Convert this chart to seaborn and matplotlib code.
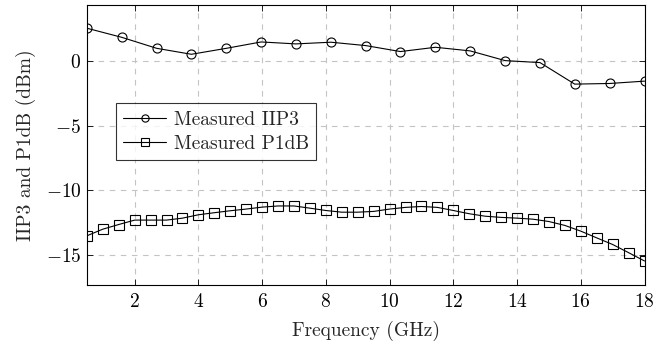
import numpy as np
import pandas as pd
import matplotlib
matplotlib.use("Agg")
import matplotlib.pyplot as plt
import seaborn as sns

iip3_freq = [0.5, 1.59, 2.69, 3.78, 4.88, 5.97, 7.06, 8.16, 9.25, 10.34, 11.44,
             12.53, 13.63, 14.72, 15.81, 16.91, 18.0]
iip3_vals = [2.5, 1.8, 0.95, 0.49, 0.95, 1.44, 1.29, 1.42, 1.16, 0.7, 1.03,
             0.75, 0.0, -0.15, -1.81, -1.76, -1.58]

p1db_freq = [0.5, 1.0, 1.5, 2.0, 2.5, 3.0, 3.5, 4.0, 4.5, 5.0, 5.5, 6.0, 6.5, 7.0,
             7.5, 8.0, 8.5, 9.0, 9.5, 10.0, 10.5, 11.0, 11.5, 12.0, 12.5, 13.0,
             13.5, 14.0, 14.5, 15.0, 15.5, 16.0, 16.5, 17.0, 17.5, 18.0]
p1db_vals = [-13.5, -12.99, -12.63, -12.29, -12.29, -12.29, -12.14, -11.88, -11.72,
             -11.57, -11.44, -11.29, -11.2, -11.2, -11.37, -11.55, -11.68, -11.68,
             -11.62, -11.44, -11.31, -11.24, -11.31, -11.55, -11.8, -11.99, -12.08,
             -12.14, -12.22, -12.4, -12.7, -13.14, -13.66, -14.17, -14.8, -15.44]

series_names = ["Measured IIP3", "Measured P1dB"]
x_ticks = [2, 4, 6, 8, 10, 12, 14, 16, 18]
y_ticks = [0, -5, -10, -15]

df = pd.concat([
    pd.DataFrame({"freq": iip3_freq, "val": iip3_vals, "series": series_names[0]}),
    pd.DataFrame({"freq": p1db_freq, "val": p1db_vals, "series": series_names[1]}),
])

sns.set_style("ticks")
plt.rcParams["font.family"] = ["cmr10", "DejaVu Serif"]
plt.rcParams["mathtext.fontset"] = "cm"
plt.rcParams["axes.formatter.use_mathtext"] = True
plt.rcParams["axes.unicode_minus"] = True

FS = 14

fig = plt.figure(figsize=(6.53, 3.46), dpi=100)
ax = fig.add_axes([0.133, 0.176, 0.854, 0.81])

sns.lineplot(data=df, x="freq", y="val", hue="series", style="series",
             palette={series_names[0]: "black", series_names[1]: "black"},
             markers={series_names[0]: "o", series_names[1]: "s"},
             dashes=False, linewidth=0.8, markersize=6.5, markerfacecolor="none",
             markeredgecolor="black", markeredgewidth=0.8, ax=ax)

ax.set_xlim(0.5, 18)
ax.set_ylim(-17.3, 4.3)
ax.set_xticks(x_ticks)
ax.set_yticks(y_ticks)
ax.grid(True, color="#c4c4c4", linestyle=(0, (5, 5)), linewidth=0.8)
ax.set_axisbelow(True)
for s in ax.spines.values():
    s.set_visible(True)
    s.set_color("black")
    s.set_linewidth(0.8)
ax.tick_params(direction="in", top=True, right=True, length=4, width=0.6,
               labelsize=FS, colors="black")
ax.tick_params(axis="x", pad=6)
ax.tick_params(axis="y", pad=4)
ax.set_xlabel("Frequency (GHz)", fontsize=FS, labelpad=7)
ax.set_ylabel("IIP3 and P1dB (dBm)", fontsize=FS, labelpad=7)

leg = ax.legend(loc="upper left", bbox_to_anchor=(0.052, 0.648), fontsize=FS,
                frameon=True, fancybox=False, edgecolor="black",
                handlelength=2.2, handletextpad=0.4, borderpad=0.38,
                labelspacing=0.32, borderaxespad=0, markerscale=0.8)
leg.get_frame().set_linewidth(0.8)
for h in leg.get_lines():
    h.set_markerfacecolor("none")

fig.savefig("out.png", dpi=100)
